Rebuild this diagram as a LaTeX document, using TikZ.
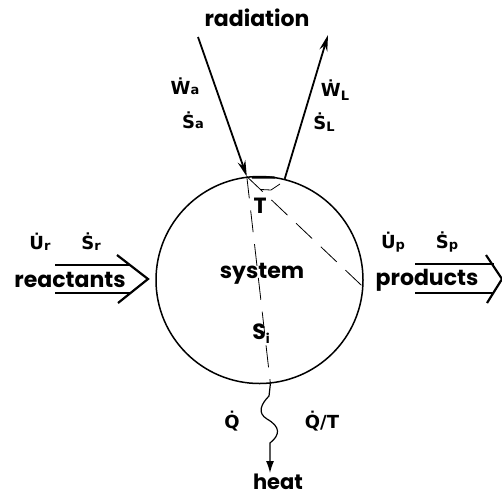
\documentclass[tikz,border=0pt]{standalone}
\usepackage{fontspec}
\setmainfont{Poppins}
\newfontfamily\symfont{DejaVu Sans}
\usetikzlibrary{arrows.meta}
\newcommand\dt[1]{#1\char"0307{}}
\newcommand\sbs[2][-3pt]{\raisebox{#1}{\fontsize{13}{13}\selectfont #2}}
\tikzset{
  lbl/.style={font=\fontsize{22}{24}\selectfont\bfseries, inner sep=0},
  sym/.style={font=\symfont\fontsize{18}{20}\selectfont\bfseries, inner sep=0},
  radarrow/.style={line width=1.8pt, -{Stealth[length=16pt,width=8pt]}},
  thin dash/.style={line width=0.8pt, dash pattern=on 22pt off 12pt},
  bigarrow/.style={line width=2.2pt, line join=miter},
}
\begin{document}
\begin{tikzpicture}[x=1pt,y=-1pt]
\useasboundingbox (0,0) rectangle (502,499);
% system
\node[circle,draw,line width=1.5pt,minimum size=207pt,inner sep=0] (sys) at (259.5,280) {};
\node[lbl] (syslbl) at (262,274) {system};
\node[lbl] (T) at (260,206) {T};
\node[lbl] (Si) at (261,334) {S\sbs[-4pt]{i}};
% radiation
\node[lbl] (rad) at (257,18) {radiation};
\coordinate (inStart) at (198,37);
\coordinate (outEnd) at (328,35);
\draw[radarrow] (inStart) -- (sys.97);
\draw[radarrow] (sys.76) -- (outEnd);
\node[sym] (Wa) at (185,86) {\dt{W}\sbs[0pt]{a}};
\node[sym] (Sa) at (193,120) {\dt{S}\sbs[0pt]{a}};
\node[sym] (WL) at (335,90) {\dt{W}\sbs[-4pt]{L}};
\node[sym] (SL) at (324,122) {\dt{S}\sbs[-2pt]{L}};
% internal lines
\draw[line width=2.2pt] (252,177.4) -- (275,177.6);
\draw[line width=0.8pt] (280,184) -- (271,190) -- (261,189.5);
\draw[thin dash] (sys.97) -- (sys.-84);
\draw[thin dash] (sys.97) -- (sys.-4);
% reactants
\node[sym] (Ur) at (40,242) {\dt{U}\sbs[-1pt]{r}};
\node[sym] (Sr) at (91,242) {\dt{S}\sbs[-1pt]{r}};
\node[lbl] (react) at (70,280) {reactants};
\coordinate (rTop) at (55,265);
\coordinate (rBot) at (55,293);
\draw[bigarrow] (rTop) -- (130,265);
\draw[bigarrow] (rBot) -- (130.5,293);
\draw[bigarrow] (117,255) -- (148,279) -- (118,303);
% products
\node[sym] (Up) at (393,242) {\dt{U}\sbs[-1pt]{p}};
\node[sym] (Sp) at (447,242) {\dt{S}\sbs[-1pt]{p}};
\node[lbl] (prod) at (427,280) {products};
\coordinate (pTop) at (415,264);
\coordinate (pBot) at (415,293);
\draw[bigarrow] (pTop) -- (494,264);
\draw[bigarrow] (pBot) -- (494,293);
\draw[bigarrow] (486,255) -- (502,279) -- (487,303);
% heat
\coordinate (heatEnd) at (270,473);
\draw[line width=1.2pt, -{Latex[length=12pt,width=8pt]}] (sys.-84) -- (269,396)
  .. controls (261,404) and (257,413) .. (267,419)
  .. controls (281,427) and (280,435) .. (270,443) -- (heatEnd);
\node[lbl,font=\fontsize{21}{23}\selectfont\bfseries] (heat) at (278,482) {heat};
\node[sym] (Q) at (232,421) {\dt{Q}};
\node[sym] (QT) at (322,421) {\dt{Q}/T};
\end{tikzpicture}
\end{document}
